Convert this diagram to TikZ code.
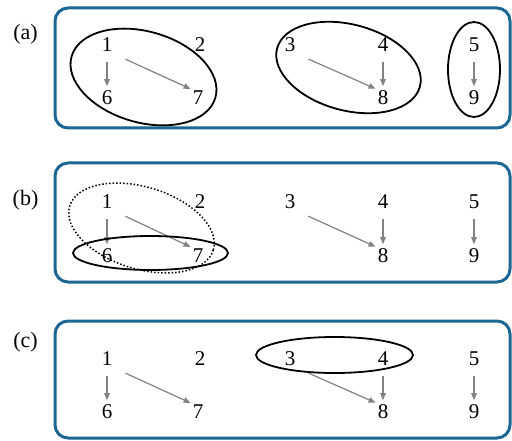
\documentclass[tikz,border=0pt]{standalone}
\usepackage{fontspec}
\setmainfont{Liberation Serif}
\usepackage{tikz}
\usetikzlibrary{arrows.meta}
\definecolor{boxblue}{RGB}{28,102,148}
\definecolor{arrowgray}{RGB}{130,130,130}

\begin{document}
\begin{tikzpicture}[x=1pt,y=-1pt,
    num/.style={font=\fontsize{21}{24}\selectfont,inner sep=2pt},
    tag/.style={font=\fontsize{22}{26}\selectfont,inner sep=0pt},
    panel/.style={boxblue,line width=3pt,rounded corners=13pt},
    dep/.style={arrowgray,line width=1.2pt,-{Triangle[length=7pt,width=5.5pt]}},
    down/.style={dep,shorten <=8pt,shorten >=2.5pt},
    slant/.style={dep,shorten <=12pt},
    grp/.style={black,line width=1.8pt}]
    \useasboundingbox (0,0) rectangle (512,441);
    \def\cola{107}
    \def\colb{200}
    \def\colc{290}
    \def\cold{383}
    \def\cole{474}
    \def\colf{198}
    % (a)
    \draw[panel] (55,8) rectangle (510,128);
    \node[tag] (la) at (25.5,34) {(a)};
    \node[num] (a1) at (\cola,45) {1};
    \node[num] (a2) at (\colb,45) {2};
    \node[num] (a3) at (\colc,45) {3};
    \node[num] (a4) at (\cold,45) {4};
    \node[num] (a5) at (\cole,45) {5};
    \node[num] (a6) at (\cola,98) {6};
    \node[num] (a7) at (\colf,98) {7};
    \node[num] (a8) at (\cold,98) {8};
    \node[num] (a9) at (\cole,98) {9};
    \draw[down]  (a1.south) -- (a6.north);
    \draw[slant] (a1.south east) -- (a7.north west);
    \draw[slant] (a3.south east) -- (a8.north west);
    \draw[down]  (a4.south) -- (a8.north);
    \draw[down]  (a5.south) -- (a9.north);
    \draw[grp,rotate around={-16:(143.5,77)}] (143.5,77) ellipse [x radius=74.8,y radius=45.5];
    \draw[grp,rotate around={-15:(348.5,67.5)}] (348.5,67.5) ellipse [x radius=73.9,y radius=43];
    \draw[grp] (474,69.5) ellipse [x radius=26,y radius=47.5];
    % (b)
    \draw[panel] (55,163) rectangle (510,282);
    \node[tag] (lb) at (25.5,200) {(b)};
    \node[num] (b1) at (\cola,202) {1};
    \node[num] (b2) at (\colb,202) {2};
    \node[num] (b3) at (\colc,202) {3};
    \node[num] (b4) at (\cold,202) {4};
    \node[num] (b5) at (\cole,202) {5};
    \node[num] (b6) at (\cola,256) {6};
    \node[num] (b7) at (\colf,256) {7};
    \node[num] (b8) at (\cold,256) {8};
    \node[num] (b9) at (\cole,256) {9};
    \draw[down]  (b1.south) -- (b6.north);
    \draw[slant] (b1.south east) -- (b7.north west);
    \draw[slant] (b3.south east) -- (b8.north west);
    \draw[down]  (b4.south) -- (b8.north);
    \draw[down]  (b5.south) -- (b9.north);
    \draw[grp,line width=1.5pt,dotted,rotate around={-17:(141.5,228)}] (141.5,228) ellipse [x radius=75.1,y radius=41];
    \draw[grp] (150.5,253) ellipse [x radius=77.5,y radius=17];
    % (c)
    \draw[panel] (55,321) rectangle (510,438);
    \node[tag] (lc) at (25.5,342) {(c)};
    \node[num] (c1) at (\cola,359) {1};
    \node[num] (c2) at (\colb,359) {2};
    \node[num] (c3) at (\colc,359) {3};
    \node[num] (c4) at (\cold,359) {4};
    \node[num] (c5) at (\cole,359) {5};
    \node[num] (c6) at (\cola,412) {6};
    \node[num] (c7) at (\colf,412) {7};
    \node[num] (c8) at (\cold,412) {8};
    \node[num] (c9) at (\cole,412) {9};
    \draw[down]  (c1.south) -- (c6.north);
    \draw[slant] (c1.south east) -- (c7.north west);
    \draw[slant] (c3.south east) -- (c8.north west);
    \draw[down]  (c4.south) -- (c8.north);
    \draw[down]  (c5.south) -- (c9.north);
    \draw[grp] (334.5,355) ellipse [x radius=78.5,y radius=18];
\end{tikzpicture}
\end{document}
